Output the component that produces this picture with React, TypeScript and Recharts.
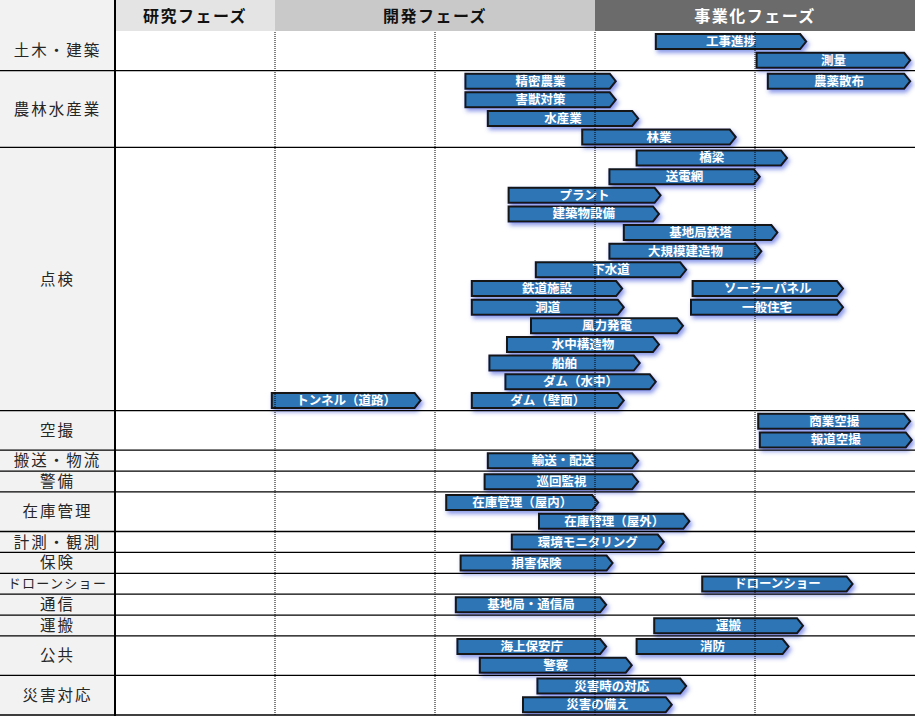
import { BarChart, Bar, XAxis, YAxis, ReferenceLine } from "recharts";

// 左の分野（行グループ）と、その中の段数
const categories = [
  "土木・建築",
  "農林水産業",
  "点検",
  "空撮",
  "搬送・物流",
  "警備",
  "在庫管理",
  "計測・観測",
  "保険",
  "ドローンショー",
  "通信",
  "運搬",
  "公共",
  "災害対応",
];
const slotsPerCategory = [2, 4, 14, 2, 1, 1, 2, 1, 1, 1, 1, 1, 2, 2];

// フェーズ見出し（横軸 0〜5）
const phases = ["研究フェーズ", "開発フェーズ", "事業化フェーズ"];
const phaseBounds = [0, 1, 3, 5];

// 各用途の矢印
const taskNames = [
  "工事進捗", "測量",
  "精密農業", "農薬散布", "害獣対策", "水産業", "林業",
  "橋梁", "送電網", "プラント", "建築物設備", "基地局鉄塔", "大規模建造物", "下水道",
  "鉄道施設", "ソーラーパネル", "洞道", "一般住宅", "風力発電", "水中構造物", "船舶",
  "ダム（水中）", "トンネル（道路）", "ダム（壁面）",
  "商業空撮", "報道空撮",
  "輸送・配送",
  "巡回監視",
  "在庫管理（屋内）", "在庫管理（屋外）",
  "環境モニタリング",
  "損害保険",
  "ドローンショー",
  "基地局・通信局",
  "運搬",
  "海上保安庁", "消防", "警察",
  "災害時の対応", "災害の備え",
];
const taskCategory = [
  0, 0,
  1, 1, 1, 1, 1,
  2, 2, 2, 2, 2, 2, 2,
  2, 2, 2, 2, 2, 2, 2,
  2, 2, 2,
  3, 3,
  4,
  5,
  6, 6,
  7,
  8,
  9,
  10,
  11,
  12, 12, 12,
  13, 13,
];
const taskSlot = [
  0, 1,
  0, 0, 1, 2, 3,
  0, 1, 2, 3, 4, 5, 6,
  7, 7, 8, 8, 9, 10, 11,
  12, 13, 13,
  0, 1,
  0,
  0,
  0, 1,
  0,
  0,
  0,
  0,
  0,
  0, 0, 1,
  0, 1,
];
const taskStart = [
  3.38, 4.01,
  2.19, 4.08, 2.19, 2.33, 2.92,
  3.26, 3.09, 2.46, 2.46, 3.18, 3.09, 2.63,
  2.23, 3.61, 2.23, 3.6, 2.6, 2.45, 2.34,
  2.44, 0.98, 2.23,
  4.02, 4.03,
  2.33,
  2.31,
  2.07, 2.65,
  2.48,
  2.16,
  3.67,
  2.13,
  3.37,
  2.14, 3.26, 2.28,
  2.64, 2.55,
];
const taskEnd = [
  4.32, 4.97,
  3.13, 4.97, 3.13, 3.27, 3.88,
  4.2, 4.03, 3.41, 3.4, 4.14, 4.04, 3.57,
  3.17, 4.55, 3.18, 4.55, 3.55, 3.4, 3.28,
  3.38, 1.91, 3.18,
  4.97, 4.98,
  3.27,
  3.27,
  3.02, 3.59,
  3.43,
  3.11,
  4.61,
  3.07,
  4.3,
  3.07, 4.21, 3.23,
  3.57, 3.48,
];

const PAD = 0.12;
const catStart: number[] = [];
let acc = 0;
slotsPerCategory.forEach((n) => {
  catStart.push(acc);
  acc += n + PAD;
});
const total = acc;
const catCenters = slotsPerCategory.map((n, i) => catStart[i] + (n + PAD) / 2);
const catEnds = slotsPerCategory.map((n, i) => catStart[i] + n + PAD);

const data = taskNames.map((name, i) => ({
  name,
  y: catStart[taskCategory[i]] + PAD / 2 + taskSlot[i] + 0.5,
  range: [taskStart[i], taskEnd[i]],
}));

const FONT = "'Noto Sans CJK JP', 'Noto Sans', sans-serif";
const LEFT = 115;
const UNIT = 160;

const Arrow = (props: any) => {
  const { x, y, width, height, payload } = props;
  if (width == null || height == null) return null;
  const tip = 6;
  const pts = `${x},${y} ${x + width - tip},${y} ${x + width},${y + height / 2} ${x + width - tip},${y + height} ${x},${y + height}`;
  return (
    <g>
      <polygon
        points={pts}
        fill="#2e75b6"
        stroke="#151515"
        strokeWidth={2}
        strokeLinejoin="miter"
        filter="url(#glow)"
      />
      <text
        x={x + width / 2}
        y={y + height / 2}
        dy="0.36em"
        textAnchor="middle"
        fill="#fff"
        fontWeight={700}
        fontSize={12.5}
        fontFamily={FONT}
      >
        {payload.name}
      </text>
    </g>
  );
};

const CategoryTick = (props: any) => {
  const { y, index } = props;
  const label = categories[index];
  const small = label.length > 6;
  return (
    <text
      x={LEFT / 2}
      y={y}
      dy="0.36em"
      textAnchor="middle"
      fill="#262626"
      fontSize={small ? 13 : 15.5}
      letterSpacing={small ? 1.3 : 2}
      fontFamily={FONT}
    >
      {label}
    </text>
  );
};

const headerBg = ["#e4e4e4", "#c9c9c9", "#6b6b6b"];
const headerFg = ["#111", "#111", "#fff"];

export default function App() {
  return (
    <div
      style={{
        position: "absolute",
        left: 0,
        top: 0,
        width: 916,
        height: 716,
        background: "#fff",
        fontFamily: FONT,
      }}
    >
      <div
        style={{
          position: "absolute",
          left: 0,
          top: 0,
          width: LEFT,
          height: 716,
          background: "#f2f2f2",
        }}
      />
      {phases.map((p, i) => (
        <div
          key={p}
          style={{
            position: "absolute",
            top: 0,
            left: LEFT + phaseBounds[i] * UNIT,
            width: (phaseBounds[i + 1] - phaseBounds[i]) * UNIT,
            height: 31,
            background: headerBg[i],
            color: headerFg[i],
            fontWeight: 700,
            fontSize: 16,
            letterSpacing: 1.5,
            lineHeight: "30px",
            textAlign: "center",
          }}
        >
          {p}
        </div>
      ))}
      <div
        style={{
          position: "absolute",
          left: LEFT - 1,
          top: 0,
          width: 1.5,
          height: 716,
          background: "#000",
        }}
      />
      <div style={{ position: "absolute", left: 0, top: 0 }}>
        <BarChart
          layout="vertical"
          data={data}
          width={916}
          height={716}
          margin={{ top: 31, right: 1, bottom: 1, left: 0 }}
        >
          <defs>
            <filter id="glow" x="-10%" y="-40%" width="130%" height="220%">
              <feDropShadow
                dx={2}
                dy={3}
                stdDeviation={2}
                floodColor="#3046d8"
                floodOpacity={0.55}
              />
            </filter>
          </defs>
          <XAxis
            type="number"
            domain={[0, 5]}
            allowDataOverflow
            hide
          />
          <YAxis
            type="number"
            dataKey="y"
            domain={[0, total]}
            width={LEFT}
            ticks={catCenters}
            interval={0}
            tick={<CategoryTick />}
            tickLine={false}
            axisLine={{ stroke: "#000", strokeWidth: 1.5 }}
          />
          {[1, 2, 3, 4].map((v) => (
            <ReferenceLine
              key={`v${v}`}
              x={v}
              stroke="#000"
              strokeWidth={1}
              strokeDasharray="1 1"
            />
          ))}
          {catEnds.map((v, i) => (
            <ReferenceLine
              key={`h${i}`}
              y={v}
              ifOverflow="visible"
              shape={(p: any) => (
                <line
                  x1={0}
                  x2={p.x2}
                  y1={p.y1}
                  y2={p.y2}
                  stroke="#000"
                  strokeWidth={1.3}
                />
              )}
            />
          ))}
          <Bar
            dataKey="range"
            barSize={15}
            shape={<Arrow />}
            isAnimationActive={false}
          />
        </BarChart>
      </div>
    </div>
  );
}
